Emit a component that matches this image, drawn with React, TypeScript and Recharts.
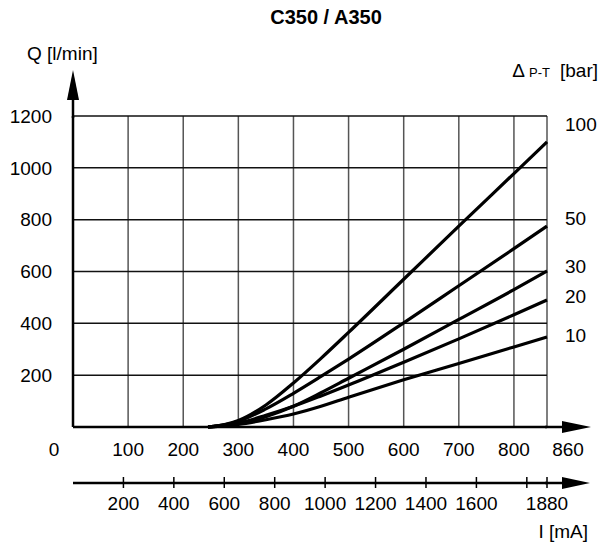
import { LineChart, Line, XAxis, YAxis, ReferenceLine } from "recharts";

// ─── data ────────────────────────────────────────────────────────────────────

const current = [245, 275, 300, 350, 400, 450, 500, 600, 700, 800, 860];
const q100 = [0, 9, 25, 85, 170, 265, 365, 570, 775, 978, 1100];
const q50 = [0, 8, 22, 70, 130, 195, 262, 402, 545, 688, 775];
const q30 = [0, 5, 13, 40, 80, 132, 188, 300, 415, 530, 602];
const q20 = [0, 6, 15, 45, 80, 120, 162, 250, 340, 433, 490];
const q10 = [0, 4, 10, 28, 50, 80, 115, 182, 245, 309, 347];

const xTicks = [0, 100, 200, 300, 400, 500, 600, 700, 800, 860];
const yTicks = [200, 400, 600, 800, 1000, 1200];
const maTicks = [200, 400, 600, 800, 1000, 1200, 1400, 1600, 1800, 1880];
const maLabels = ["200", "400", "600", "800", "1000", "1200", "1400", "1600", "", "1880"];
const pressures = ["100", "50", "30", "20", "10"];
const pressureLabelY = [124, 218, 266, 296, 335];

const data = current.map((i, k) => ({
  i,
  p100: q100[k],
  p50: q50[k],
  p30: q30[k],
  p20: q20[k],
  p10: q10[k],
}));

const FONT = "Arial, 'Liberation Sans', sans-serif";
const FS = 19;

function XTick({ x, y, payload }: any) {
  const v = payload.value;
  const shift = v === 0 ? -19 : v === 860 ? 21 : 0;
  return (
    <text x={x + shift} y={y + 22} dy="0.355em" textAnchor="middle" fontSize={FS} fontFamily={FONT} fill="#000">
      {v}
    </text>
  );
}

function MaTick({ x, y, payload, index }: any) {
  return (
    <g>
      <line x1={x} y1={y - 6} x2={x} y2={y + 5} stroke="#000" strokeWidth={1.5} />
      <text x={x} y={y + 20} dy="0.355em" textAnchor="middle" fontSize={FS} fontFamily={FONT} fill="#000">
        {maLabels[index] ?? payload.value}
      </text>
    </g>
  );
}

function YTick({ x, y, payload }: any) {
  return (
    <text x={x - 21} y={y} dy="0.355em" textAnchor="end" fontSize={FS} fontFamily={FONT} fill="#000">
      {payload.value}
    </text>
  );
}

export default function App() {
  return (
    <div style={{ position: "absolute", left: 0, top: 0, width: 598, height: 543, background: "#fff" }}>
      <LineChart
        width={598}
        height={543}
        data={data}
        margin={{ top: 116, right: 51, left: 0, bottom: 20 }}
      >
        {xTicks.slice(1).map((v) => (
          <ReferenceLine key={"v" + v} x={v} stroke="#555" strokeWidth={1.5} />
        ))}
        {yTicks.map((v) => (
          <ReferenceLine key={"h" + v} y={v} stroke="#111" strokeWidth={1.5} />
        ))}
        <XAxis
          dataKey="i"
          type="number"
          domain={[0, 860]}
          ticks={xTicks}
          interval={0}
          height={56}
          tickSize={0}
          tickMargin={0}
          tickLine={false}
          axisLine={{ stroke: "#000", strokeWidth: 2.5 }}
          tick={<XTick />}
        />
        <XAxis
          xAxisId="ma"
          dataKey="i"
          type="number"
          domain={[0, 1880]}
          allowDataOverflow
          ticks={maTicks}
          interval={0}
          height={40}
          tickSize={0}
          tickMargin={0}
          tickLine={false}
          axisLine={{ stroke: "#000", strokeWidth: 2.5 }}
          tick={<MaTick />}
        />
        <YAxis
          type="number"
          domain={[0, 1200]}
          ticks={yTicks}
          interval={0}
          width={73}
          tickSize={0}
          tickMargin={0}
          tickLine={false}
          axisLine={{ stroke: "#000", strokeWidth: 2.5 }}
          tick={<YTick />}
        />
        {["p100", "p50", "p30", "p20", "p10"].map((k) => (
          <Line
            key={k}
            dataKey={k}
            type="monotone"
            stroke="#000"
            strokeWidth={3.2}
            dot={false}
            isAnimationActive={false}
          />
        ))}
      </LineChart>

      <svg
        width={598}
        height={543}
        style={{ position: "absolute", left: 0, top: 0, pointerEvents: "none" }}
        fontFamily={FONT}
      >
        <text x={326} y={17} dy="0.355em" textAnchor="middle" fontSize={20} fontWeight="bold">
          C350 / A350
        </text>
        <text x={27} y={53} dy="0.355em" fontSize={FS}>
          Q [l/min]
        </text>
        <text x={598} y={70} dy="0.355em" textAnchor="end" fontSize={FS}>
          <tspan>Δ</tspan>
          <tspan fontSize={13} dx={4}>P-T</tspan>
          <tspan dx={10}>[bar]</tspan>
        </text>
        {pressures.map((p, k) => (
          <text key={p} x={565} y={pressureLabelY[k]} dy="0.355em" fontSize={FS}>
            {p}
          </text>
        ))}
        <text x={588} y={531} dy="0.355em" textAnchor="end" fontSize={FS}>
          I [mA]
        </text>

        {/* axis arrows */}
        <line x1={73} y1={118} x2={73} y2={95} stroke="#000" strokeWidth={2.5} />
        <polygon points="67,100 79,100 73,70" fill="#000" />
        <line x1={545} y1={427} x2={566} y2={427} stroke="#000" strokeWidth={2.5} />
        <polygon points="562,421 562,433 591,427" fill="#000" />
        <line x1={545} y1={483} x2={566} y2={483} stroke="#000" strokeWidth={2.5} />
        <polygon points="562,477 562,489 590,483" fill="#000" />
      </svg>
    </div>
  );
}
